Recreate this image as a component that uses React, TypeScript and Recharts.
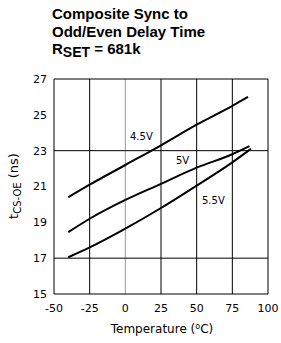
import React from 'react';
import { LineChart, Line, XAxis, YAxis, ReferenceLine } from 'recharts';

const xTicks = [-50, -25, 0, 25, 50, 75, 100];
const yTicks = [15, 17, 19, 21, 23, 25, 27];
const vGrid = [-25, 0, 25, 50, 75];
const hGrid = [17, 23];

const temps45 = [-40, -25, 0, 25, 50, 75, 86];
const vals45 = [20.4, 21.1, 22.2, 23.3, 24.45, 25.5, 26.0];
const temps50 = [-40, -25, 0, 25, 50, 75, 87];
const vals50 = [18.45, 19.2, 20.25, 21.15, 22.05, 22.8, 23.25];
const temps55 = [-40, -25, 0, 25, 50, 75, 88];
const vals55 = [17.05, 17.6, 18.65, 19.8, 21.05, 22.35, 23.1];

const toRows = (ts: number[], vs: number[]) => ts.map((t, i) => ({ t, v: vs[i] }));

const FONT = 'DejaVu Sans, sans-serif';

const App: React.FC = () => {
  return (
    <div style={{ position: 'absolute', left: 0, top: 0, width: 281, height: 343, background: '#fff', overflow: 'hidden' }}>
      <LineChart width={281} height={343} margin={{ top: 79, right: 13, bottom: 0, left: 14 }}>
        <XAxis
          type="number"
          dataKey="t"
          domain={[-50, 100]}
          ticks={xTicks}
          axisLine={false}
          tickLine={false}
          tick={{ fill: '#000', fontSize: 11, fontFamily: FONT }}
          tickMargin={4}
          height={49}
        />
        <YAxis
          type="number"
          domain={[15, 27]}
          ticks={yTicks}
          axisLine={false}
          tickLine={false}
          tick={{ fill: '#000', fontSize: 11, fontFamily: FONT }}
          tickMargin={1}
          width={40}
        />
        {vGrid.map(x => (
          <ReferenceLine key={'v' + x} x={x} stroke={x === 0 ? '#999' : '#000'} strokeWidth={1} />
        ))}
        {hGrid.map(y => (
          <ReferenceLine key={'h' + y} y={y} stroke="#000" strokeWidth={1} />
        ))}
        <ReferenceLine x={-50} stroke="#000" strokeWidth={1} />
        <ReferenceLine x={100} stroke="#000" strokeWidth={1} />
        <ReferenceLine y={15} stroke="#000" strokeWidth={1} />
        <ReferenceLine y={27} stroke="#000" strokeWidth={1} />
        <Line data={toRows(temps45, vals45)} dataKey="v" type="monotone" stroke="#000" strokeWidth={2} dot={false} isAnimationActive={false} />
        <Line data={toRows(temps50, vals50)} dataKey="v" type="monotone" stroke="#000" strokeWidth={2} dot={false} isAnimationActive={false} />
        <Line data={toRows(temps55, vals55)} dataKey="v" type="monotone" stroke="#000" strokeWidth={2} dot={false} isAnimationActive={false} />
      </LineChart>
      <svg width={281} height={343} style={{ position: 'absolute', left: 0, top: 0, pointerEvents: 'none' }}>
        <g fontFamily="Liberation Sans, Arial, sans-serif" fontWeight="bold" fontSize={15} fill="#000">
          <text x={52} y={19}>Composite Sync to</text>
          <text x={52} y={37}>Odd/Even Delay Time</text>
          <text x={52} y={54}>
            R<tspan dy={3} fontSize={14}>SET</tspan><tspan dy={-3}> = 681k</tspan>
          </text>
        </g>
        <g fontFamily={FONT} fontSize={10} fill="#000">
          <text x={130} y={140}>4.5V</text>
          <text x={176} y={164}>5V</text>
          <text x={202} y={204}>5.5V</text>
        </g>
        <g fontFamily={FONT} fill="#000">
          <text x={162} y={333} textAnchor="middle" fontSize={12}>
            Temperature (<tspan dy={-4} fontSize={8}>o</tspan><tspan dy={4}>C)</tspan>
          </text>
          <text x={0} y={0} transform="translate(18,186) rotate(-90)" textAnchor="middle" fontSize={13}>
            t<tspan dy={3} fontSize={10}>CS-OE</tspan><tspan dy={-3}> (ns)</tspan>
          </text>
        </g>
      </svg>
    </div>
  );
};

export default App;
